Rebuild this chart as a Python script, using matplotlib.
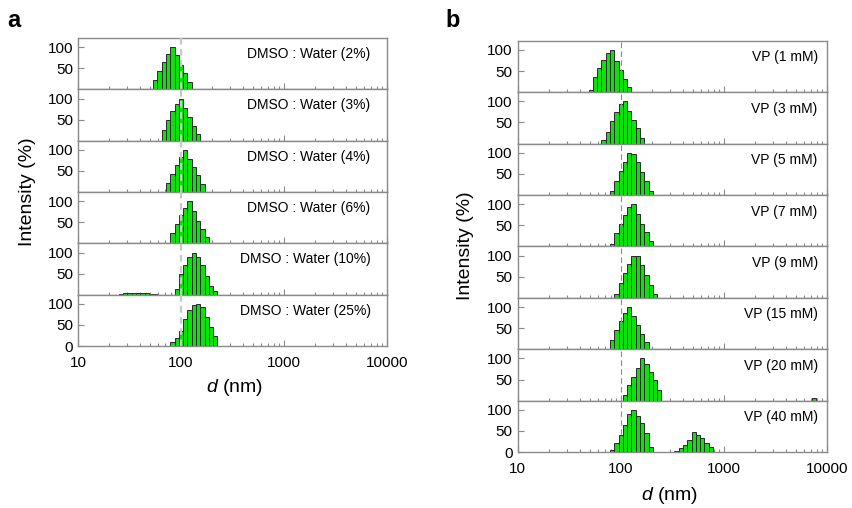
import numpy as np
import matplotlib
matplotlib.use("Agg")
import matplotlib.pyplot as plt
from matplotlib.ticker import FixedLocator, FixedFormatter, NullFormatter

plt.rcParams['font.family'] = ['Liberation Sans', 'DejaVu Sans']
plt.rcParams['mathtext.fontset'] = 'custom'
plt.rcParams['mathtext.it'] = 'Liberation Sans:italic'
plt.rcParams['mathtext.rm'] = 'Liberation Sans'

# ---------------- data ----------------
BINS_PER_DECADE = 24
D_MIN = 10.0

# Panel a: DMSO : Water
a_labels = ["DMSO : Water (2%)", "DMSO : Water (3%)", "DMSO : Water (4%)",
            "DMSO : Water (6%)", "DMSO : Water (10%)", "DMSO : Water (25%)"]
a_bin_start = [18, 20, 21, 22, 23, 21]
a_intensity = [
    [22, 44, 64, 83, 100, 81, 59, 39, 17],
    [25, 49, 70, 86, 100, 78, 56, 34, 15],
    [21, 43, 63, 83, 100, 79, 59, 41, 18],
    [24, 47, 67, 84, 100, 76, 54, 33, 16],
    [14, 48, 71, 89, 100, 90, 70, 44, 21, 8],
    [1, 10, 20, 35, 63, 86, 98, 100, 92, 68, 44, 23],
]
# secondary populations: (panel index, first bin, intensities)
a_minor_panel = [4]
a_minor_start = [10]
a_minor_intensity = [[2, 3, 3, 4, 4, 4, 3, 2, 1]]

# Panel b: VP concentration
b_labels = ["VP (1 mM)", "VP (3 mM)", "VP (5 mM)", "VP (7 mM)",
            "VP (9 mM)", "VP (15 mM)", "VP (20 mM)", "VP (40 mM)"]
b_bin_start = [17, 20, 22, 22, 23, 22, 25, 22]
b_intensity = [
    [4, 35, 58, 77, 93, 100, 74, 52, 30, 12],
    [8, 28, 53, 74, 94, 100, 78, 57, 36, 14],
    [10, 32, 56, 79, 100, 98, 77, 55, 33, 10],
    [5, 32, 54, 75, 93, 100, 76, 54, 33, 13],
    [9, 35, 58, 80, 100, 100, 77, 53, 30, 10],
    [22, 46, 67, 85, 100, 79, 57, 37, 16],
    [14, 36, 55, 78, 100, 88, 68, 48, 25],
    [4, 21, 41, 64, 91, 100, 86, 68, 44, 12],
]
b_minor_panel = [6, 7]
b_minor_start = [69, 37]
b_minor_intensity = [[5], [3, 9, 17, 28, 47, 40, 33, 22, 13]]

x_ticks = [10, 100, 1000, 10000]
x_ticklabels = ["10", "100", "1000", "10000"]

# ---------------- style ----------------
W, H = 852, 508
GREEN = "#0ee00e"
EDGE = "#2a2a2a"
SPINE = "#8a8a8a"

fig = plt.figure(figsize=(W / 100, H / 100), dpi=100)


def bars(ax, start, heights):
    k = start + np.arange(len(heights))
    left = D_MIN * 10 ** ((k - 0.5) / BINS_PER_DECADE)
    right = D_MIN * 10 ** ((k + 0.5) / BINS_PER_DECADE)
    ax.bar(left, heights, width=right - left, align='edge', color=GREEN,
           edgecolor=EDGE, linewidth=0.7, zorder=2)


def make_column(x0, x1, y_top, y_bot, labels, starts, data,
                mpanel, mstart, mdata, label_x, label_y, dash_kw):
    n = len(labels)
    h = (y_bot - y_top) / n
    axes = []
    for i in range(n):
        top = y_top + i * h
        ax = fig.add_axes([x0 / W, 1 - (top + h) / H, (x1 - x0) / W, h / H])
        ax.set_xscale('log')
        ax.set_xlim(10, 10000)
        ax.set_ylim(0, 122)
        bars(ax, starts[i], data[i])
        for p, s, d in zip(mpanel, mstart, mdata):
            if p == i:
                bars(ax, s, d)
        ax.axvline(100, zorder=3, **dash_kw)
        for sp in ax.spines.values():
            sp.set_color(SPINE)
            sp.set_linewidth(1.0)
        ax.xaxis.set_major_locator(FixedLocator(x_ticks))
        last = (i == n - 1)
        if last:
            ax.xaxis.set_major_formatter(FixedFormatter(x_ticklabels))
            ax.set_yticks([0, 50, 100])
        else:
            ax.xaxis.set_major_formatter(NullFormatter())
            ax.set_yticks([50, 100])
        ax.xaxis.set_minor_formatter(NullFormatter())
        ax.tick_params(axis='both', which='both', direction='in', color=SPINE,
                       labelsize=11, labelcolor='black', top=False, right=False)
        ax.tick_params(axis='x', which='major', length=4.5, width=0.8, pad=7)
        ax.tick_params(axis='x', which='minor', length=2.5, width=0.8)
        ax.tick_params(axis='y', which='major', length=4, width=0.8, pad=3.5)
        ax.tick_params(axis='y', which='minor', length=0)
        ax.text(label_x, label_y, labels[i], transform=ax.transAxes,
                ha='right', va='center', fontsize=10)
        axes.append(ax)
    return axes


make_column(78, 387, 38, 346, a_labels, a_bin_start, a_intensity,
            a_minor_panel, a_minor_start, a_minor_intensity, 0.947, 0.69,
            dict(color="#c8c8c8", lw=1.6, ls=(0, (3, 2))))
make_column(517.7, 826.7, 40.7, 452, b_labels, b_bin_start, b_intensity,
            b_minor_panel, b_minor_start, b_minor_intensity, 0.971, 0.677,
            dict(color="#8c8c8c", lw=0.8, ls=(0, (5, 3))))

# axis labels
fig.text(27 / W, 1 - 192 / H, "Intensity (%)", rotation=90, ha='center',
         va='center', fontsize=14)
fig.text(466 / W, 1 - 246 / H, "Intensity (%)", rotation=90, ha='center',
         va='center', fontsize=14)
fig.text(235 / W, 1 - 388 / H, "$d$ (nm)", ha='center', va='center', fontsize=14)
fig.text(670 / W, 1 - 496 / H, "$d$ (nm)", ha='center', va='center', fontsize=14)

# panel letters
fig.text(7 / W, 1 - 27 / H, "a", fontsize=17, fontweight='bold', va='baseline')
fig.text(445 / W, 1 - 26.7 / H, "b", fontsize=17, fontweight='bold', va='baseline')

fig.savefig("out.png", dpi=100)
